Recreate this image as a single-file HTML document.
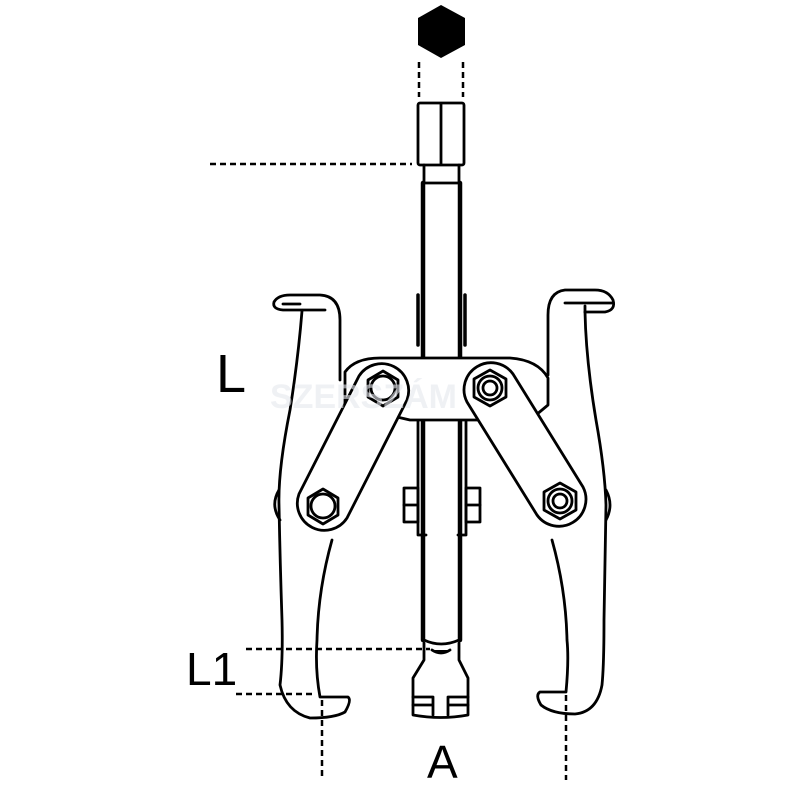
<!DOCTYPE html>
<html><head><style>html,body{margin:0;padding:0;background:#fff;}svg{display:block}</style></head>
<body>
<svg width="800" height="800" viewBox="0 0 800 800" xmlns="http://www.w3.org/2000/svg">
<g fill="none" stroke="#000" stroke-width="2.8" stroke-linejoin="round" stroke-linecap="round">
<polygon points="441,5 465,18 465,45 441,58 418,45 418,18" fill="#000" stroke="none"/>
<g stroke-dasharray="6,4" stroke-linecap="butt" stroke-width="2.5">
<line x1="419" y1="62" x2="419" y2="97"/>
<line x1="463" y1="62" x2="463" y2="97"/>
<line x1="210" y1="164" x2="412" y2="164"/>
<line x1="246" y1="649" x2="430" y2="649"/>
<line x1="236" y1="694" x2="313" y2="694"/>
<line x1="322" y1="700" x2="322" y2="776"/>
<line x1="566" y1="695" x2="566" y2="780"/>
</g>
<rect x="418" y="103" width="46" height="62" rx="2"/>
<line x1="441" y1="104" x2="441" y2="164"/>
<line x1="424" y1="165" x2="424" y2="183"/><line x1="459" y1="165" x2="459" y2="183"/>
<line x1="424" y1="183" x2="459" y2="183"/>
<line x1="423" y1="183" x2="423" y2="640" stroke-width="4.5"/>
<line x1="460" y1="183" x2="460" y2="640" stroke-width="4.5"/>
<line x1="418" y1="295" x2="418" y2="345" stroke-width="3.5"/>
<line x1="465" y1="295" x2="465" y2="345" stroke-width="3.5"/>
<path d="M418,420 L418,535 L426,535 M466,420 L466,535 L458,535"/>
<rect x="404" y="488" width="14" height="34"/><line x1="404" y1="505" x2="418" y2="505"/>
<rect x="466" y="488" width="14" height="34"/><line x1="466" y1="505" x2="480" y2="505"/>
<path d="M424,640 Q441,648 459,640" />
<path d="M424,643 L424,660 L413,678 L413,715 Q441,720 468,715 L468,678 L459,660 L459,643"/>
<path d="M413,697 L433,697 L433,715 M413,705 L433,705 M468,697 L448,697 L448,715 M468,705 L448,705"/>
<path d="M432,650 Q441,656 450,650" fill="#000"/>
<!-- left jaw -->
<path d="M302,310 L283,310 Q272,309 274,302 Q278,295 290,295 L320,295 Q340,296 340,320 L340,380"/>
<path d="M283,304 L300,304 M303,310 L325,310"/>
<path d="M302,311 Q298,360 290,410 Q278,470 279,505 Q280,560 282,620 Q283,660 280,685 Q286,712 310,718 Q335,718 345,712 Q352,700 348,697 L320,697 Q315,670 317,640 Q318,590 332,540"/>
<path d="M279,490 Q270,505 280,520" />
<!-- right jaw -->
<path d="M585,312 L605,312 Q616,310 613,300 Q608,290 595,290 L565,290 Q548,292 548,315 L548,375"/>
<path d="M565,303 L612,303 M585,312 L585,306"/>
<path d="M585,312 Q586,360 596,420 Q605,470 606,505 Q605,560 604,620 Q604,665 602,685 Q597,712 575,714 Q552,714 541,705 Q535,695 540,692 L566,692 Q569,660 567,640 Q566,590 552,540"/>
<path d="M606,490 Q614,505 606,520" />
<!-- crossbar -->
<path d="M345,372 Q355,358 380,358 L510,358 Q538,360 548,378 L548,405 L530,420 L410,420 L345,405 Z" fill="#fff"/>
<!-- links -->
<path d="M359,376 A27,27 0 0 1 407,400 L347,518 A27,27 0 0 1 299,494 Z" fill="#fff"/>
<path d="M467,402 A27,27 0 0 1 513,374 L583,487 A27,27 0 0 1 537,515 Z" fill="#fff"/>
<!-- bolts -->
<polygon points="383,371 398,380 398,397 383,406 368,397 368,380" fill="#fff"/>
<circle cx="383" cy="388" r="12"/>
<polygon points="323,489 338,498 338,515 323,524 308,515 308,498" fill="#fff"/>
<circle cx="323" cy="506" r="12"/>
<polygon points="490,370 506,379 506,397 490,406 474,397 474,379" fill="#fff"/>
<circle cx="490" cy="388" r="12"/><circle cx="490" cy="388" r="7"/>
<polygon points="560,483 576,492 576,510 560,519 544,510 544,492" fill="#fff"/>
<circle cx="560" cy="501" r="12"/><circle cx="560" cy="501" r="7"/>
</g>
<g font-family="Liberation Sans, sans-serif" fill="#000">
<text x="216" y="392" font-size="54">L</text>
<text x="186" y="685" font-size="46">L1</text>
<text x="427" y="778" font-size="46">A</text>
</g>
<text x="270" y="408" font-family="Liberation Sans, sans-serif" font-size="34" font-weight="bold" fill="#e6e8ee" opacity="0.6">SZERSZÁM</text>
</svg>
</body></html>
